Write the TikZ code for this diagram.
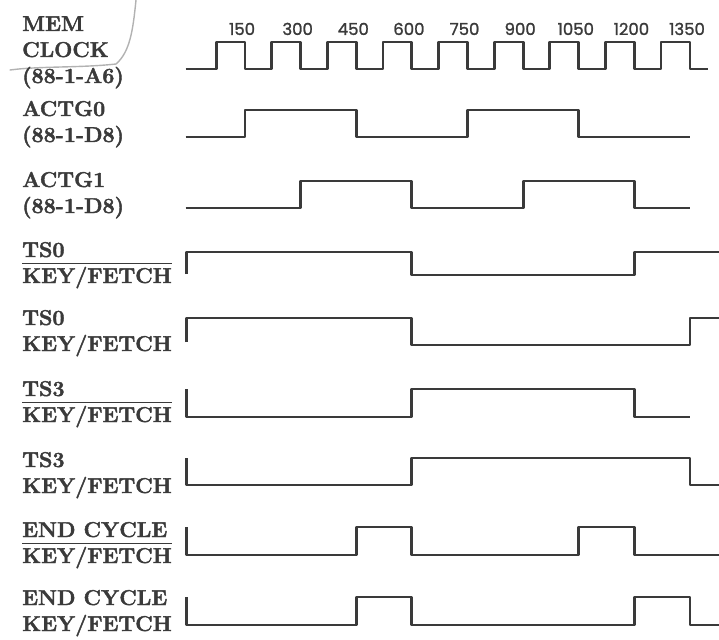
\documentclass[tikz,border=0pt]{standalone}
\usepackage{fontspec}
\newfontfamily\tickfont{Poppins}[FakeBold=1.4]
\newfontfamily\lblfont{Latin Modern Roman}[BoldFeatures={FakeBold=2}]
\usetikzlibrary{positioning}
\definecolor{ink}{RGB}{58,58,58}
\newsavebox\barbox
\newcommand\barred[1]{\sbox\barbox{#1}\rlap{\rule[19pt]{\wd\barbox}{1.5pt}}\usebox\barbox}

\begin{document}
\begin{tikzpicture}[x=1pt,y=-1pt,
  lbl/.style={anchor=base west,inner sep=0pt,align=left,text=ink,
    font=\fontsize{21.5}{26}\lblfont\bfseries},
  tick/.style={anchor=base,inner sep=0pt,text=ink,font=\fontsize{16.5}{16}\tickfont},
  sig/.style={draw=ink,line width=2.8pt,line join=round}]
  \useasboundingbox (0,0) rectangle (719,639);
  \draw[gray!60,line width=1.4pt,line cap=round] (136,0) .. controls (133,30) and (130,52) .. (116,64)
    .. controls (80,68) and (40,66) .. (10,70);
  \node[lbl] (lclk) at (22,83) {MEM\\CLOCK\\(88-1-A6)};
  \node[lbl] (lact0) at (22,142) {ACTG0\\(88-1-D8)};
  \node[lbl] (lact1) at (22,213) {ACTG1\\(88-1-D8)};
  \node[lbl] (lts0n) at (22,283) {TS0\\\barred{KEY/FETCH}};
  \node[lbl] (lts0) at (22,351) {TS0\\KEY/FETCH};
  \node[lbl] (lts3n) at (22,422) {TS3\\\barred{KEY/FETCH}};
  \node[lbl] (lts3) at (22,493) {TS3\\KEY/FETCH};
  \node[lbl] (lecn) at (22,563) {END CYCLE\\\barred{KEY/FETCH}};
  \node[lbl] (lec) at (22,631) {END CYCLE\\KEY/FETCH};
  \begin{scope}[shift={(189.4,0)},x=0.3708pt]
    \foreach \t in {150,300,...,1350}
      \node[tick] (t\t) at ({\t-8},35) {\t};
    \draw[sig] (-10,69) \foreach \k in {0,...,8}{ -- ({150*\k+72},69) -- ({150*\k+72},42)
      -- ({150*\k+150},42) -- ({150*\k+150},69)} -- (1398,69);
    \draw[sig] (-10,137) -- (150,137) -- (150,110) -- (450,110) -- (450,137) -- (750,137)
      -- (750,110) -- (1050,110) -- (1050,137) -- (1350,137);
    \draw[sig] (-10,208) -- (300,208) -- (300,181) -- (600,181) -- (600,208) -- (900,208)
      -- (900,181) -- (1200,181) -- (1200,208) -- (1350,208);
    \draw[sig] (-8,274) -- (-8,252) -- (600,252) -- (600,275) -- (1200,275) -- (1200,252) -- (1430,252);
    \draw[sig] (-8,342) -- (-8,318) -- (600,318) -- (600,345) -- (1350,345) -- (1350,318) -- (1430,318);
    \draw[sig] (-8,389) -- (-8,417) -- (600,417) -- (600,389) -- (1200,389) -- (1200,417) -- (1350,417);
    \draw[sig] (-8,458) -- (-8,485) -- (600,485) -- (600,458) -- (1350,458) -- (1350,485) -- (1430,485);
    \draw[sig] (-8,527) -- (-8,555) -- (450,555) -- (450,527) -- (600,527) -- (600,555) -- (1050,555)
      -- (1050,527) -- (1200,527) -- (1200,555) -- (1430,555);
    \draw[sig] (-8,597) -- (-8,625) -- (450,625) -- (450,597) -- (600,597) -- (600,625) -- (1200,625)
      -- (1200,597) -- (1350,597) -- (1350,625) -- (1430,625);
  \end{scope}
\end{tikzpicture}
\end{document}
